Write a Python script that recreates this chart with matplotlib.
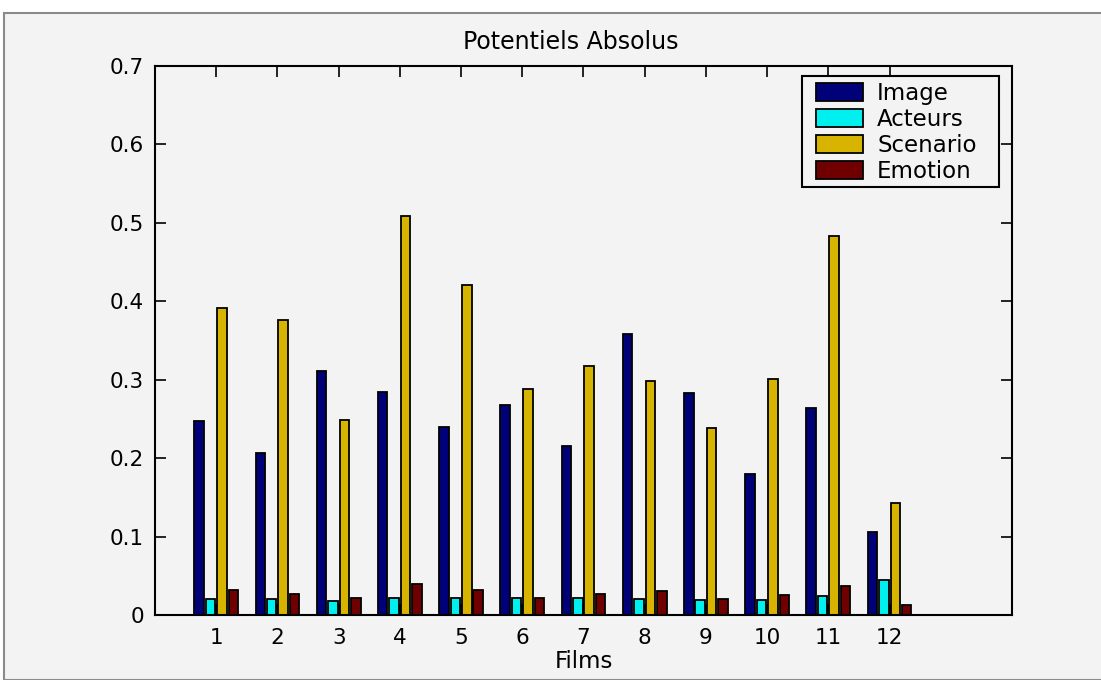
import matplotlib
matplotlib.use("Agg")
import matplotlib.pyplot as plt
from matplotlib.patches import Rectangle
import numpy as np

films = list(range(1, 13))
image = [0.247, 0.206, 0.311, 0.284, 0.239, 0.268, 0.215, 0.358, 0.283, 0.180, 0.264, 0.106]
acteurs = [0.020, 0.020, 0.018, 0.022, 0.022, 0.022, 0.022, 0.021, 0.019, 0.019, 0.024, 0.045]
scenario = [0.391, 0.376, 0.249, 0.509, 0.421, 0.288, 0.317, 0.298, 0.238, 0.301, 0.483, 0.143]
emotion = [0.032, 0.027, 0.022, 0.039, 0.032, 0.022, 0.027, 0.031, 0.021, 0.025, 0.037, 0.013]

series_names = ["Image", "Acteurs", "Scenario", "Emotion"]
series_colors = ["#000078", "#00f0f0", "#d6b400", "#700000"]

bg = "#f3f3f3"
plt.rcParams["font.family"] = ["DejaVu Sans"]

fig = plt.figure(figsize=(11.01, 6.8), dpi=100, facecolor="white")
# window frame
fig.patches.append(Rectangle((4 / 1101, 0), 1.0, 1 - 13 / 680, transform=fig.transFigure,
                             facecolor=bg, edgecolor="#8a8a8a", linewidth=1.5, zorder=-10))

ax = fig.add_axes([155 / 1101, 1 - 615 / 680, (1012 - 155) / 1101, (615 - 65.7) / 680])
ax.set_facecolor(bg)

x = np.array(films, dtype=float)
width = 0.155
offsets = [-0.28, -0.093, 0.093, 0.28]
for vals, off, name, col in zip([image, acteurs, scenario, emotion], offsets, series_names, series_colors):
    ax.bar(x + off, vals, width, color=col, edgecolor="black", linewidth=1.3, label=name)

ax.set_xlim(0, 14)
ax.set_ylim(0, 0.7)
ax.set_xticks(films)
ax.set_xticklabels([str(f) for f in films])
yt = [0, 0.1, 0.2, 0.3, 0.4, 0.5, 0.6, 0.7]
ax.set_yticks(yt)
ax.set_yticklabels(["0"] + [f"{v:.1f}" for v in yt[1:]])
ax.tick_params(direction="in", length=8, width=1.2, top=True, right=True,
               labelsize=15.5, colors="black")
ax.tick_params(axis="y", pad=8)
ax.tick_params(axis="x", pad=9)
for s in ax.spines.values():
    s.set_linewidth(1.5)

ax.set_title("Potentiels Absolus", fontsize=17, pad=12, x=0.485)
ax.set_xlabel("Films", fontsize=16.5, labelpad=2)

# legend box, drawn separately so its padding can be set on each side
ax.add_patch(Rectangle((0.755, 0.779), 0.230, 0.202, transform=ax.transAxes,
                       facecolor=bg, edgecolor="black", linewidth=1.5, zorder=5))
leg = ax.legend(loc="upper left", bbox_to_anchor=(0.7713, 0.970), fontsize=16.5,
                frameon=False, handlelength=2.05, handleheight=0.8,
                handletextpad=0.62, labelspacing=0.13, borderpad=0, borderaxespad=0)
leg.set_zorder(6)

fig.savefig("out.png", dpi=100, facecolor="white")
